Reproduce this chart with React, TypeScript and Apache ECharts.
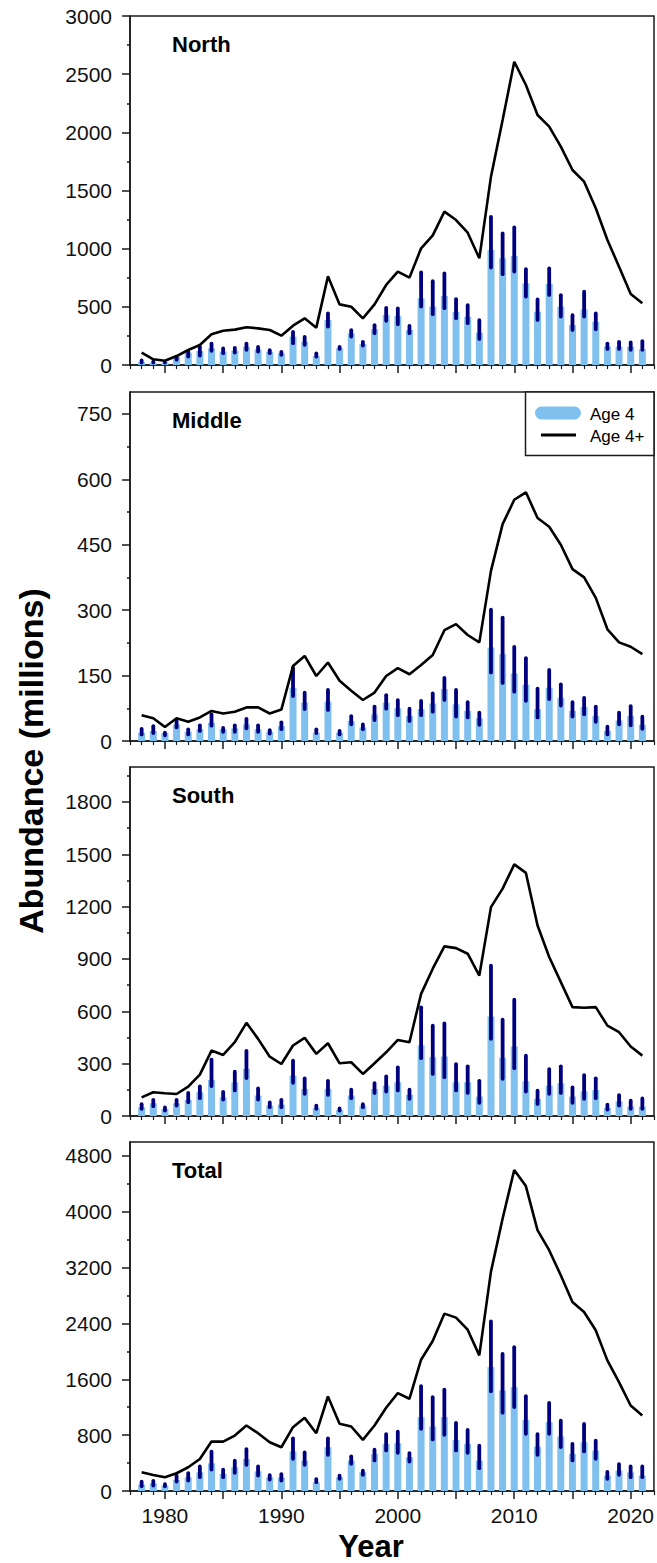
import React, { useEffect, useRef } from "react";
import * as echarts from "echarts";

const years = [
  1978, 1979, 1980, 1981, 1982, 1983, 1984, 1985, 1986, 1987, 1988, 1989, 1990,
  1991, 1992, 1993, 1994, 1995, 1996, 1997, 1998, 1999, 2000, 2001, 2002, 2003,
  2004, 2005, 2006, 2007, 2008, 2009, 2010, 2011, 2012, 2013, 2014, 2015, 2016,
  2017, 2018, 2019, 2020, 2021,
];

// North
const northAge4 = [25, 20, 20, 70, 106, 120, 143, 115, 123, 158, 135, 115, 100, 244, 200, 77, 387, 143, 272, 180, 307, 430, 421, 301, 573, 501, 593, 458, 415, 278, 988, 917, 937, 702, 458, 696, 501, 344, 478, 372, 158, 158, 158, 135];
const northLow = [5, 5, 5, 30, 57, 66, 106, 86, 92, 115, 100, 86, 72, 172, 158, 57, 315, 123, 229, 152, 258, 364, 335, 258, 487, 421, 473, 387, 344, 209, 822, 765, 788, 573, 372, 587, 401, 286, 401, 292, 123, 123, 115, 115];
const northHigh = [55, 45, 40, 86, 129, 172, 200, 158, 163, 200, 172, 143, 129, 300, 258, 115, 458, 172, 315, 215, 358, 507, 501, 352, 811, 736, 802, 582, 530, 401, 1289, 1146, 1198, 839, 579, 845, 616, 444, 645, 458, 200, 215, 209, 221];
const northAge4Plus = [106, 49, 37, 77, 129, 172, 264, 295, 304, 324, 315, 301, 252, 338, 401, 321, 762, 521, 501, 401, 521, 688, 802, 751, 1003, 1114, 1318, 1246, 1137, 917, 1619, 2106, 2607, 2407, 2149, 2049, 1877, 1676, 1576, 1347, 1074, 845, 610, 530];

// Middle
const middleAge4 = [19, 23, 19, 38, 21, 27, 42, 27, 29, 38, 27, 21, 34, 122, 88, 19, 90, 19, 46, 31, 61, 88, 75, 57, 73, 86, 119, 84, 69, 52, 214, 199, 155, 129, 73, 122, 99, 69, 78, 57, 23, 47, 57, 37];
const middleLow = [11, 14, 9, 27, 11, 19, 31, 17, 17, 25, 17, 13, 23, 99, 69, 14, 67, 11, 34, 23, 44, 70, 55, 42, 55, 63, 90, 52, 50, 33, 153, 129, 109, 88, 50, 92, 77, 52, 57, 40, 11, 34, 32, 24];
const middleHigh = [32, 38, 23, 50, 31, 40, 65, 34, 40, 55, 40, 29, 47, 172, 115, 31, 121, 27, 61, 42, 83, 109, 98, 78, 96, 113, 149, 121, 93, 69, 305, 287, 220, 194, 124, 167, 134, 93, 103, 83, 37, 69, 84, 60];
const middleAge4Plus = [59, 52, 32, 52, 44, 54, 69, 63, 67, 77, 77, 63, 72, 172, 195, 149, 180, 138, 115, 94, 111, 149, 167, 153, 174, 197, 254, 268, 243, 226, 390, 497, 553, 570, 511, 491, 450, 394, 375, 328, 256, 226, 216, 199];

// South
const southAge4 = [50, 73, 40, 73, 92, 136, 207, 107, 193, 270, 117, 59, 65, 231, 155, 46, 155, 34, 117, 59, 155, 174, 193, 122, 404, 337, 341, 193, 193, 111, 570, 333, 398, 199, 98, 174, 187, 111, 142, 149, 46, 84, 54, 54];
const southLow = [31, 46, 21, 50, 69, 92, 161, 84, 136, 207, 84, 40, 40, 180, 117, 31, 111, 21, 92, 40, 122, 130, 136, 88, 321, 231, 212, 136, 122, 65, 432, 203, 264, 130, 59, 117, 122, 65, 88, 92, 27, 50, 31, 31];
const southHigh = [78, 103, 59, 103, 142, 180, 333, 149, 264, 384, 168, 88, 103, 327, 226, 69, 212, 54, 161, 78, 199, 237, 289, 161, 633, 528, 541, 308, 295, 212, 872, 562, 677, 356, 155, 279, 295, 174, 245, 226, 75, 130, 98, 111];
const southAge4Plus = [107, 136, 130, 126, 168, 237, 375, 350, 423, 534, 442, 340, 298, 404, 448, 356, 417, 302, 308, 241, 302, 365, 436, 423, 700, 844, 972, 962, 930, 805, 1197, 1303, 1442, 1393, 1092, 911, 767, 624, 620, 624, 518, 480, 398, 346];

// Total
const totalAge4 = [91, 110, 77, 158, 196, 268, 397, 244, 340, 459, 282, 196, 196, 569, 435, 124, 627, 196, 435, 268, 531, 675, 684, 483, 1058, 924, 1058, 732, 675, 435, 1775, 1440, 1488, 1019, 636, 986, 780, 531, 699, 579, 220, 292, 268, 220];
const totalLow = [43, 53, 43, 110, 124, 172, 282, 172, 234, 349, 196, 139, 124, 435, 349, 100, 493, 148, 364, 206, 412, 555, 522, 397, 866, 713, 780, 555, 522, 301, 1402, 1096, 1177, 794, 493, 794, 603, 412, 541, 435, 148, 206, 172, 172];
const totalHigh = [158, 172, 124, 244, 282, 378, 589, 330, 459, 627, 378, 254, 268, 780, 579, 196, 780, 244, 522, 316, 617, 842, 876, 569, 1527, 1369, 1479, 1000, 900, 675, 2455, 1991, 2087, 1383, 842, 1287, 1034, 699, 986, 747, 301, 412, 378, 378];
const totalAge4Plus = [268, 230, 196, 254, 340, 459, 708, 708, 794, 938, 828, 699, 627, 914, 1048, 828, 1354, 962, 924, 732, 938, 1192, 1402, 1321, 1881, 2149, 2541, 2484, 2311, 1943, 3139, 3900, 4599, 4369, 3738, 3450, 3091, 2709, 2565, 2302, 1871, 1560, 1225, 1082];

const panelNames = ["North", "Middle", "South", "Total"];
const age4Sets = [northAge4, middleAge4, southAge4, totalAge4];
const lowSets = [northLow, middleLow, southLow, totalLow];
const highSets = [northHigh, middleHigh, southHigh, totalHigh];
const plusSets = [northAge4Plus, middleAge4Plus, southAge4Plus, totalAge4Plus];

const yMaxes = [3000, 800, 2000, 5000];
const northTicks = [0, 500, 1000, 1500, 2000, 2500, 3000];
const middleTicks = [0, 150, 300, 450, 600, 750];
const southTicks = [0, 300, 600, 900, 1200, 1500, 1800];
const totalTicks = [0, 800, 1600, 2400, 3200, 4000, 4800];
const northMinor = [250, 750, 1250, 1750, 2250, 2750];
const middleMinor = [75, 225, 375, 525, 675];
const southMinor = [150, 450, 750, 1050, 1350, 1650, 1950];
const totalMinor = [400, 1200, 2000, 2800, 3600, 4400];
const majorTickSets = [northTicks, middleTicks, southTicks, totalTicks];
const minorTickSets = [northMinor, middleMinor, southMinor, totalMinor];

const xMin = 1977;
const xMax = 2022;
const xTicks = [1980, 1985, 1990, 1995, 2000, 2005, 2010, 2015, 2020];
const xTickLabels = [1980, 1990, 2000, 2010, 2020];
const xMinorTicks: number[] = [];
for (let y = xMin; y <= xMax; y++) if (xTicks.indexOf(y) < 0) xMinorTicks.push(y);

const legendNames = ["Age 4", "Age 4+"];
const xTitle = "Year";
const yTitle = "Abundance (millions)";

const FONT = "'Liberation Sans', Arial, Helvetica, sans-serif";
const BAR_COLOR = "#80c0ee";
const ERR_COLOR = "#00007f";
const AXIS_COLOR = "#1a1a1a";

const GRID_LEFT = 130;
const GRID_WIDTH = 524;
const GRID_TOPS = [16, 392, 767, 1142];
const GRID_HEIGHT = 349;

export default function App() {
  const ref = useRef<HTMLDivElement>(null);

  useEffect(() => {
    if (!ref.current) return;
    const chart = echarts.init(ref.current, undefined, { renderer: "svg" });

    const grids: any[] = [];
    const xAxes: any[] = [];
    const yAxes: any[] = [];
    const series: any[] = [];
    const graphics: any[] = [];

    for (let i = 0; i < 4; i++) {
      grids.push({
        left: GRID_LEFT,
        top: GRID_TOPS[i],
        width: GRID_WIDTH,
        height: GRID_HEIGHT,
        show: true,
        borderColor: AXIS_COLOR,
        borderWidth: 1.5,
        backgroundColor: "transparent",
      });
      xAxes.push({
        type: "value",
        gridIndex: i,
        position: "bottom",
        min: xMin,
        max: xMax,
        axisLine: { show: true, onZero: false, lineStyle: { color: AXIS_COLOR, width: 1.5 } },
        axisTick: {
          show: true,
          inside: false,
          length: 8,
          customValues: xTicks,
          lineStyle: { color: AXIS_COLOR, width: 1.5 },
        },
        axisLabel: {
          show: i === 3,
          customValues: xTickLabels,
          fontSize: 21,
          fontFamily: FONT,
          color: "#111",
          margin: 14,
          formatter: (v: number) => String(v),
        },
        splitLine: { show: false },
      });
    }
    for (let i = 0; i < 4; i++) {
      xAxes.push({
        type: "value",
        gridIndex: i,
        position: "bottom",
        min: xMin,
        max: xMax,
        axisLine: { show: false, onZero: false },
        axisTick: {
          show: true,
          inside: false,
          length: 4,
          customValues: xMinorTicks,
          lineStyle: { color: AXIS_COLOR, width: 1.2 },
        },
        axisLabel: { show: false },
        splitLine: { show: false },
      });
    }
    for (let i = 0; i < 4; i++) {
      yAxes.push({
        type: "value",
        gridIndex: i,
        position: "left",
        min: 0,
        max: yMaxes[i],
        axisLine: { show: true, onZero: false, lineStyle: { color: AXIS_COLOR, width: 1.5 } },
        axisTick: {
          show: true,
          inside: false,
          length: 8,
          customValues: majorTickSets[i],
          lineStyle: { color: AXIS_COLOR, width: 1.5 },
        },
        axisLabel: {
          show: true,
          customValues: majorTickSets[i],
          fontSize: 21,
          fontFamily: FONT,
          color: "#111",
          margin: 18,
          formatter: (v: number) => String(v),
        },
        splitLine: { show: false },
      });
    }
    for (let i = 0; i < 4; i++) {
      yAxes.push({
        type: "value",
        gridIndex: i,
        min: 0,
        max: yMaxes[i],
        position: "left",
        axisLine: { show: false, onZero: false },
        axisTick: {
          show: true,
          inside: false,
          length: 3,
          customValues: minorTickSets[i],
          lineStyle: { color: AXIS_COLOR, width: 1.5 },
        },
        axisLabel: { show: false },
        splitLine: { show: false },
      });
    }

    for (let i = 0; i < 4; i++) {
      const a4 = age4Sets[i];
      const lo = lowSets[i];
      const hi = highSets[i];
      const pl = plusSets[i];
      series.push({
        type: "bar",
        name: legendNames[0],
        xAxisIndex: i,
        yAxisIndex: i,
        barWidth: 7,
        itemStyle: { color: BAR_COLOR },
        data: years.map((y, k) => [y, a4[k]]),
        z: 2,
      });
      series.push({
        type: "custom",
        name: "Age 4 CI",
        xAxisIndex: i,
        yAxisIndex: i,
        encode: { x: 0, y: [1, 2] },
        data: years.map((y, k) => [y, lo[k], hi[k]]),
        renderItem: (params: any, api: any) => {
          const p1 = api.coord([api.value(0), api.value(1)]);
          const p2 = api.coord([api.value(0), api.value(2)]);
          return {
            type: "line",
            shape: { x1: p1[0], y1: p1[1] - 1.8, x2: p2[0], y2: p2[1] + 1.8 },
            style: { stroke: ERR_COLOR, lineWidth: 3.8, lineCap: "round" },
          };
        },
        z: 3,
      });
      series.push({
        type: "line",
        name: legendNames[1],
        xAxisIndex: i,
        yAxisIndex: i,
        symbol: "none",
        showSymbol: false,
        lineStyle: { color: "#000", width: 2.6 },
        data: years.map((y, k) => [y, pl[k]]),
        z: 4,
      });

      graphics.push({
        type: "text",
        left: 172,
        top: GRID_TOPS[i] + 17,
        style: {
          text: panelNames[i],
          font: `bold 22px ${FONT}`,
          fill: "#000",
        },
        z: 10,
      });
    }

    // Legend (in Middle panel)
    const lgTop = GRID_TOPS[1];
    graphics.push({
      type: "rect",
      shape: { x: 525.5, y: lgTop, width: 128.5, height: 63.5 },
      style: { fill: "#fff", stroke: AXIS_COLOR, lineWidth: 1.5 },
      z: 8,
    });
    graphics.push({
      type: "rect",
      shape: { x: 535, y: lgTop + 14.5, width: 46, height: 13, r: 6.5 },
      style: { fill: BAR_COLOR },
      z: 9,
    });
    graphics.push({
      type: "line",
      shape: { x1: 541, y1: lgTop + 43, x2: 576, y2: lgTop + 43 },
      style: { stroke: "#000", lineWidth: 3 },
      z: 9,
    });
    graphics.push({
      type: "text",
      x: 590,
      y: lgTop + 22,
      style: {
        text: legendNames[0],
        font: `17px ${FONT}`,
        fill: "#000",
        textVerticalAlign: "middle",
        verticalAlign: "middle",
      },
      z: 9,
    });
    graphics.push({
      type: "text",
      x: 590,
      y: lgTop + 44,
      style: {
        text: legendNames[1],
        font: `17px ${FONT}`,
        fill: "#000",
        textVerticalAlign: "middle",
        verticalAlign: "middle",
      },
      z: 9,
    });

    // Axis titles
    graphics.push({
      type: "text",
      x: 31,
      y: 761,
      rotation: Math.PI / 2,
      style: {
        text: yTitle,
        font: `bold 34px ${FONT}`,
        fill: "#000",
        align: "center",
        verticalAlign: "middle",
        textAlign: "center",
        textVerticalAlign: "middle",
      },
    });
    graphics.push({
      type: "text",
      x: 371,
      y: 1546,
      style: {
        text: xTitle,
        font: `bold 31px ${FONT}`,
        fill: "#000",
        align: "center",
        verticalAlign: "middle",
        textAlign: "center",
        textVerticalAlign: "middle",
      },
    });

    chart.setOption({
      animation: false,
      backgroundColor: "#fff",
      grid: grids,
      xAxis: xAxes,
      yAxis: yAxes,
      series,
      graphic: graphics,
    });

    return () => {
      chart.dispose();
    };
  }, []);

  return (
    <div
      ref={ref}
      style={{ position: "absolute", left: 0, top: 0, width: 657, height: 1563 }}
    />
  );
}
